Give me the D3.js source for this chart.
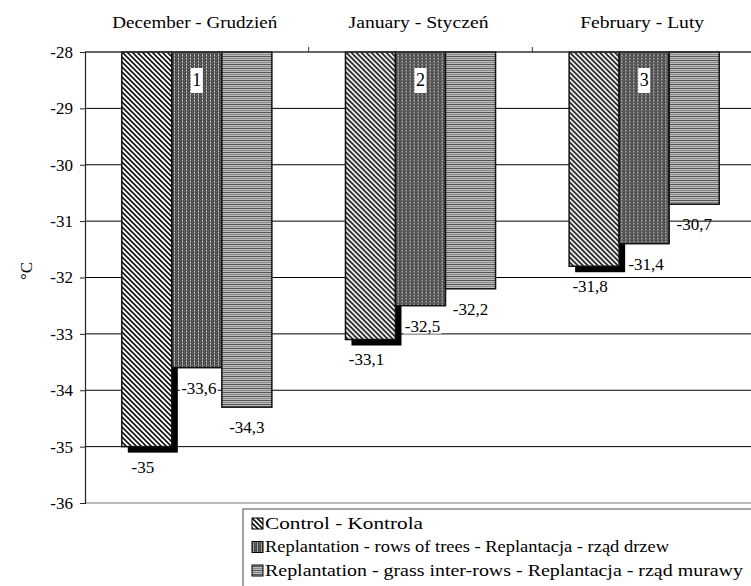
<!DOCTYPE html>
<html>
<head>
<meta charset="utf-8">
<script src="https://cdn.jsdelivr.net/npm/d3@7"></script>
</head>
<body style="margin:0">
<div id="chart"></div>
<script>
let chartW = 751;
let chartH = 586;
let serifName = "Liberation Serif";

// data
let months = ["December - Grudzień", "January - Styczeń", "February - Luty"];
let monthNums = ["1", "2", "3"];
let seriesNames = [
  "Control - Kontrola",
  "Replantation - rows of trees - Replantacja - rząd drzew",
  "Replantation - grass inter-rows - Replantacja - rząd murawy"
];
let control = [-35, -33.1, -31.8];
let trees = [-33.6, -32.5, -31.4];
let grass = [-34.3, -32.2, -30.7];
let yTicks = [-28, -29, -30, -31, -32, -33, -34, -35, -36];

let allSeries = [control, trees, grass];
let patternIds = ["pCtrl", "pTrees", "pGrass"];

function setFont(sel, size) {
  sel.attr("font-family", serifName)
    .attr("font-size", size)
    .style("font-family", serifName)
    .style("font-size", size + "px");
  return sel;
}

let svg = d3.select("#chart").append("svg")
  .attr("width", chartW)
  .attr("height", chartH);

// fill patterns
let defs = svg.append("defs");

let p1 = defs.append("pattern").attr("id", "pCtrl")
  .attr("patternUnits", "userSpaceOnUse").attr("width", 5).attr("height", 5);
p1.append("rect").attr("width", 5).attr("height", 5).attr("fill", "#fff");
p1.append("path").attr("d", "M-1,-1 L6,6 M-1,4 L1,6 M4,-1 L6,1")
  .attr("stroke", "#111").attr("stroke-width", 1.6);

let p2 = defs.append("pattern").attr("id", "pTrees")
  .attr("patternUnits", "userSpaceOnUse").attr("width", 4).attr("height", 3);
p2.append("rect").attr("width", 4).attr("height", 3).attr("fill", "#4a4a4a");
p2.append("rect").attr("x", 1).attr("y", 0).attr("width", 1).attr("height", 3).attr("fill", "#858585");
p2.append("rect").attr("x", 1).attr("y", 1).attr("width", 1).attr("height", 1).attr("fill", "#ddd");
p2.append("rect").attr("x", 3).attr("y", 2).attr("width", 1).attr("height", 1).attr("fill", "#777");

let p3 = defs.append("pattern").attr("id", "pGrass")
  .attr("patternUnits", "userSpaceOnUse").attr("width", 4).attr("height", 4);
p3.append("rect").attr("width", 4).attr("height", 4).attr("fill", "#bdbdbd");
p3.append("rect").attr("y", 0).attr("width", 4).attr("height", 1).attr("fill", "#555");
p3.append("rect").attr("y", 2).attr("width", 4).attr("height", 1).attr("fill", "#888");

// scales
let x = d3.scaleBand().domain(months).range([85, 756]);
let x1 = d3.scaleBand().domain([0, 1, 2])
  .range([36.8, x.bandwidth() - 36.8]).padding(0);
let y = d3.scaleLinear().domain([-36, -28]).range([503, 52]);

// gridlines
svg.append("g").selectAll("line").data(yTicks.slice(1)).enter()
  .append("line")
  .attr("x1", 85).attr("x2", chartW)
  .attr("y1", d => y(d)).attr("y2", d => y(d))
  .attr("stroke", d => d == -36 ? "#777" : "#000")
  .attr("stroke-width", 1);

// y axis
let yAxis = d3.axisLeft(y).tickValues(yTicks).tickSize(5)
  .tickFormat(d => String(d));
let yg = svg.append("g").attr("transform", "translate(85,0)").call(yAxis);
setFont(yg, 17);
yg.select(".domain").attr("stroke", "#222").attr("stroke-width", 1.2);
yg.selectAll(".tick line").attr("stroke", "#222");
setFont(yg.selectAll(".tick text"), 17).attr("fill", "#000").attr("x", -12);

setFont(svg.append("text"), 17)
  .attr("transform", "translate(32,271) rotate(-90)")
  .attr("text-anchor", "middle")
  .text("°C");

// bars
let groups = svg.selectAll(".month").data(months).enter()
  .append("g")
  .attr("class", "month")
  .attr("transform", d => "translate(" + x(d) + ",0)");

// shadow for the control series
groups.append("rect")
  .attr("x", x1(0) + 6)
  .attr("y", y(-28) + 6)
  .attr("width", x1.bandwidth())
  .attr("height", (d, i) => y(control[i]) - y(-28))
  .attr("fill", "#000");

allSeries.forEach(function(vals, s) {
  groups.append("rect")
    .attr("x", x1(s))
    .attr("y", y(-28))
    .attr("width", x1.bandwidth())
    .attr("height", (d, i) => y(vals[i]) - y(-28))
    .attr("fill", "url(#" + patternIds[s] + ")")
    .attr("stroke", "#111")
    .attr("stroke-width", 1.5);
});

// top axis line and category ticks
svg.append("line")
  .attr("x1", 85).attr("x2", chartW)
  .attr("y1", y(-28)).attr("y2", y(-28))
  .attr("stroke", "#333").attr("stroke-width", 1.5);
svg.selectAll(".ctick").data(months.slice(1)).enter()
  .append("line")
  .attr("x1", d => x(d)).attr("x2", d => x(d))
  .attr("y1", y(-28) - 5).attr("y2", y(-28))
  .attr("stroke", "#333");

// month titles
let titleW = [165, 140, 124];
setFont(svg.selectAll(".mlabel").data(months).enter().append("text"), 16)
  .attr("x", d => x(d) + x.bandwidth() / 2 - 2)
  .attr("y", 28)
  .attr("text-anchor", "middle")
  .attr("textLength", (d, i) => titleW[i])
  .attr("lengthAdjust", "spacingAndGlyphs")
  .text(d => d);

// number boxes on tree bars
let numG = groups.append("g")
  .attr("transform", "translate(" + (x1(1) + x1.bandwidth() / 2) + ",80)");
numG.append("rect")
  .attr("x", -6).attr("y", -12).attr("width", 12).attr("height", 25)
  .attr("fill", "#fff");
setFont(numG.append("text"), 18)
  .attr("text-anchor", "middle")
  .attr("dy", "0.35em")
  .text((d, i) => monthNums[i]);

// value labels
function fmt(v) { return String(v).replace(".", ","); }

allSeries.forEach(function(vals, s) {
  let lg = groups.append("g")
    .attr("transform", (d, i) => "translate(" + (x1(s) + x1.bandwidth() / 2 + (s == 0 ? -4 : (s == 1 ? 2 : 0))) + "," + (y(vals[i]) + 20) + ")");
  if (s == 1) {
    lg.append("rect")
      .attr("x", -19).attr("y", -9).attr("width", 38).attr("height", 17)
      .attr("fill", "#fff");
  }
  setFont(lg.append("text"), 17)
    .attr("text-anchor", "middle")
    .attr("dy", "0.35em")
    .text((d, i) => fmt(vals[i]));
});

// legend
let legW = [158, 404, 478];
let leg = svg.append("g").attr("transform", "translate(243,509)");
leg.append("rect")
  .attr("x", 0).attr("y", 0).attr("width", 520).attr("height", 90)
  .attr("fill", "#fff").attr("stroke", "#666").attr("stroke-width", 1.2);
let items = leg.selectAll(".item").data(seriesNames).enter()
  .append("g")
  .attr("transform", (d, i) => "translate(9," + (14 + i * 23.5) + ")");
items.append("rect")
  .attr("x", 0).attr("y", -5).attr("width", 11).attr("height", 11)
  .attr("fill", (d, i) => "url(#" + patternIds[i] + ")")
  .attr("stroke", "#000").attr("stroke-width", 1);
setFont(items.append("text"), 17)
  .attr("x", 13).attr("dy", "0.35em")
  .attr("textLength", (d, i) => legW[i])
  .attr("lengthAdjust", "spacingAndGlyphs")
  .text(d => d);
</script>
</body>
</html>
